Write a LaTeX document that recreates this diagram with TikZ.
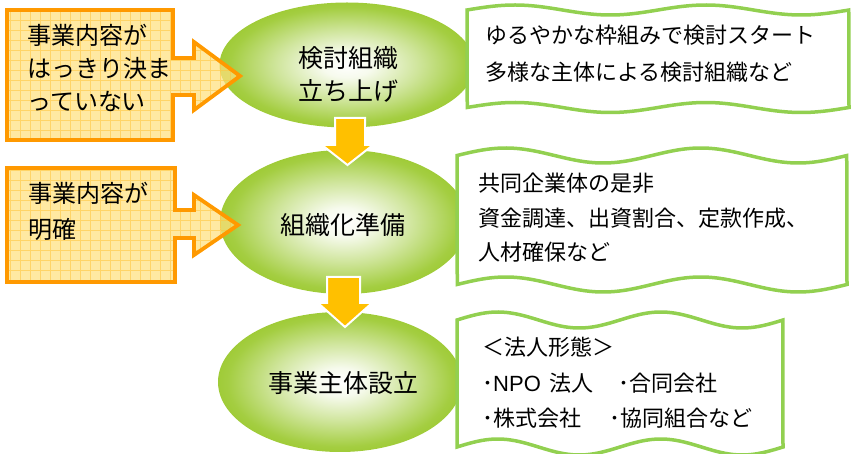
\documentclass[tikz,border=0pt]{standalone}
\usepackage{fontspec}
\setmainfont{Noto Sans CJK JP}
\newfontfamily\latinf{Liberation Sans}
\usetikzlibrary{shapes.geometric}
\definecolor{egreen}{HTML}{94C520}
\definecolor{wgreen}{HTML}{92D050}
\definecolor{corange}{HTML}{FF9900}
\definecolor{cfill}{HTML}{FFE07E}
\definecolor{cgrid}{HTML}{FFC740}
\definecolor{darrow}{HTML}{FFC000}
\pgfdeclareradialshading{ellshade}{\pgfpointorigin}{color(0bp)=(white); color(5bp)=(egreen!8!white); color(14bp)=(egreen!45!white); color(23bp)=(egreen!85!white); color(30bp)=(egreen); color(50bp)=(egreen)}
\begin{document}
\begin{tikzpicture}[x=1pt,y=-1pt,
  stage/.style={ellipse, shade, shading=ellshade, draw=none, inner sep=0pt},
  stagetext/.style={font=\fontsize{25}{33}\selectfont, align=center, text=black, inner sep=0pt},
  lefttext/.style={font=\fontsize{24}{33}\selectfont, align=left, text=black, inner sep=0pt, anchor=west},
  boxtext/.style={font=\fontsize{22}{35}\selectfont, align=left, text=black, inner sep=0pt, anchor=west},
  wavebox/.style={draw=wgreen, line width=3.5pt, fill=white, line join=miter},
  callfill/.style={fill=cfill, fill opacity=0.72},
  callborder/.style={draw=corange, line width=3.8pt, line join=miter},
  gridline/.style={draw=cgrid, line width=0.7pt, opacity=0.6},
  downarrow/.style={fill=darrow, draw=white, line width=2pt, line join=miter}]
\useasboundingbox (0,0) rectangle (855,454);

% ellipses
\node[stage, minimum width=255pt, minimum height=125pt] (e1) at (347,65) {};
\node[stage, minimum width=248pt, minimum height=144pt] (e2) at (344,222) {};
\node[stage, minimum width=244pt, minimum height=140pt] (e3) at (340,382) {};

% down arrows
\draw[downarrow] (335,118) -- (365,118) -- (365,145) -- (373,145) -- (347.5,165) -- (322,145) -- (335,145) -- cycle;
\draw[downarrow] (327,277) -- (360,277) -- (360,303) -- (372,303) -- (345,327) -- (318,303) -- (327,303) -- cycle;

% stage texts
\node[stagetext] (t1) at (348,74) {検討組織\\立ち上げ};
\node[stagetext] (t2) at (343,225) {組織化準備};
\node[stagetext] (t3) at (343,383) {事業主体設立};

% callout 1
\fill[callfill] (7,10) -- (173,10) -- (173,58) -- (194,58) -- (194,42) -- (240,76) -- (194,110) -- (194,95) -- (173,95) -- (173,140) -- (7,140) -- cycle;
\begin{scope}
\clip (7,10) -- (173,10) -- (173,58) -- (194,58) -- (194,42) -- (240,76) -- (194,110) -- (194,95) -- (173,95) -- (173,140) -- (7,140) -- cycle;
\draw[gridline] (0,0) grid[step=10pt] (250,150);
\end{scope}
\draw[callborder] (7,10) -- (173,10) -- (173,58) -- (194,58) -- (194,42) -- (240,76) -- (194,110) -- (194,95) -- (173,95) -- (173,140) -- (7,140) -- cycle;
\node[lefttext] (l1) at (27,68) {事業内容が\\はっきり決ま\\っていない};

% callout 2
\fill[callfill] (7,168) -- (175,168) -- (175,210) -- (194,210) -- (194,195) -- (238,225) -- (194,255) -- (194,238) -- (175,238) -- (175,282) -- (7,282) -- cycle;
\begin{scope}
\clip (7,168) -- (175,168) -- (175,210) -- (194,210) -- (194,195) -- (238,225) -- (194,255) -- (194,238) -- (175,238) -- (175,282) -- (7,282) -- cycle;
\draw[gridline] (0,160) grid[step=10pt] (250,290);
\end{scope}
\draw[callborder] (7,168) -- (175,168) -- (175,210) -- (194,210) -- (194,195) -- (238,225) -- (194,255) -- (194,238) -- (175,238) -- (175,282) -- (7,282) -- cycle;
\node[lefttext, font=\fontsize{24}{36}\selectfont] (l2) at (28,211) {事業内容が\\明確};

% wave boxes
\draw[wavebox] plot[domain=0:1,samples=80,smooth,variable=\t] ({467+382*\t},{10-5*sin(720*\t)}) -- plot[domain=0:1,samples=80,smooth,variable=\t] ({849-382*\t},{107.5-5*sin(720*(1-\t))}) -- cycle;
\draw[wavebox] plot[domain=0:1,samples=80,smooth,variable=\t] ({457+390*\t},{155.5-7.5*sin(720*\t)}) -- plot[domain=0:1,samples=80,smooth,variable=\t] ({847-390*\t},{284.5-7.5*sin(720*(1-\t))}) -- cycle;
\draw[wavebox] plot[domain=0:1,samples=80,smooth,variable=\t] ({457+326*\t},{320-8*sin(720*\t)}) -- plot[domain=0:1,samples=80,smooth,variable=\t] ({783-326*\t},{447-8*sin(720*(1-\t))}) -- cycle;

\node[boxtext, font=\fontsize{22}{37}\selectfont] (bA) at (485,54) {ゆるやかな枠組みで検討スタート\\多様な主体による検討組織など};
\node[boxtext, font=\fontsize{22}{34.5}\selectfont] (bB) at (478,218) {共同企業体の是非\\資金調達、出資割合、定款作成、\\人材確保など};
\node[boxtext, font=\fontsize{22}{35.5}\selectfont] (bC) at (482,383) {＜法人形態＞\\･{\latinf NPO}\hspace{9pt}法人\hspace{25pt}･合同会社\\･株式会社\hspace{28pt}･協同組合など};
\end{tikzpicture}
\end{document}
